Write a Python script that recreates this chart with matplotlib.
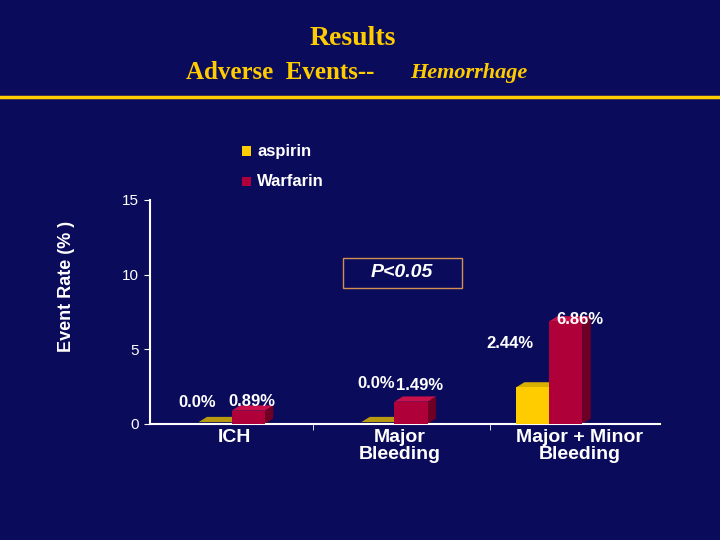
import matplotlib
matplotlib.use("Agg")
import matplotlib.pyplot as plt
from matplotlib.patches import Polygon, Rectangle

plt.rcParams['font.family'] = ['Liberation Sans', 'DejaVu Sans']

categories = ["ICH", "Major\nBleeding", "Major + Minor\nBleeding"]
aspirin = [0.0, 0.0, 2.44]
warfarin = [0.89, 1.49, 6.86]
asp_labels = ["0.0%", "0.0%", "2.44%"]
war_labels = ["0.89%", "1.49%", "6.86%"]
yticks = [0, 5, 10, 15]

BG = "#0b0b5c"
GOLD = "#ffcc00"
GOLD_D = "#b89a10"
RED = "#b0003a"
RED_D = "#6e0025"

fig = plt.figure(figsize=(7.2, 5.4), dpi=100, facecolor=BG)
fig.text(0.49, 0.928, "Results", ha="center", va="center", color=GOLD,
         fontsize=20, fontweight="bold", family="Liberation Serif")
fig.text(0.259, 0.865, "Adverse  Events--", ha="left", va="center", color=GOLD,
         fontsize=18, fontweight="bold", family="Liberation Serif")
fig.text(0.57, 0.865, "Hemorrhage", ha="left", va="center", color=GOLD,
         fontsize=16, fontweight="bold", style="italic", family="Liberation Serif")
fig.add_artist(plt.Line2D([0, 1], [0.82, 0.82], color=GOLD, lw=2.5))

ax = fig.add_axes([0.208, 0.215, 0.708, 0.415], facecolor=BG)
ax.set_xlim(-0.5, 2.5)
ax.set_ylim(0, 15)
w = 0.195
dx, dy = 0.05, 0.35
group_pos = [-0.018, 0.94, 1.85]

def bar3d(x, h, face, top, dark):
    hh = max(h, 0.12)
    ax.add_patch(Polygon([(x + w, 0), (x + w + dx, dy), (x + w + dx, hh + dy), (x + w, hh)],
                         closed=True, fc=dark, ec="none", zorder=2))
    ax.add_patch(Polygon([(x, hh), (x + dx, hh + dy), (x + w + dx, hh + dy), (x + w, hh)],
                         closed=True, fc=dark if h == 0 else top, ec="none", zorder=3))
    if h > 0:
        ax.add_patch(Rectangle((x, 0), w, h, fc=face, ec="none", zorder=3))

for i, g in enumerate(group_pos):
    bar3d(g - w, aspirin[i], GOLD, "#d8b000", GOLD_D)
    bar3d(g, warfarin[i], RED, "#c8104a", RED_D)

lab = dict(color="white", fontsize=12, fontweight="bold", ha="center", va="center", zorder=5)
ax.text(-0.218, 1.4, asp_labels[0], **lab)
ax.text(0.10, 1.5, war_labels[0], **lab)
ax.text(0.83, 2.7, asp_labels[1], **lab)
ax.text(1.09, 2.55, war_labels[1], **lab)
ax.text(1.62, 5.4, asp_labels[2], **lab)
ax.text(2.03, 7.0, war_labels[2], **lab)

for s in ["top", "right"]:
    ax.spines[s].set_visible(False)
for s in ["left", "bottom"]:
    ax.spines[s].set_color("white")
    ax.spines[s].set_linewidth(1.5)
ax.set_yticks(yticks)
ax.set_yticklabels([str(t) for t in yticks], color="white", fontsize=11)
ax.set_xticks([0.0, 0.97, 2.03])
ax.set_xticklabels(categories, color="white", fontsize=14, fontweight="bold", linespacing=1.0)
ax.set_xticks([0.46, 1.5], minor=True)
ax.tick_params(axis="x", which="major", length=0, pad=4)
ax.tick_params(axis="x", which="minor", length=4, color="white")
ax.tick_params(axis="y", colors="white", length=4)
fig.text(0.092, 0.47, "Event Rate (% )", rotation=90, ha="center", va="center",
         color="white", fontsize=13, fontweight="bold")

# P value box
fig.patches.append(Rectangle((0.476, 0.467), 0.165, 0.056, transform=fig.transFigure,
                             fill=False, ec="#d09050", lw=1))
fig.text(0.558, 0.495, "P<0.05", ha="center", va="center", color="white", fontsize=14,
         fontweight="bold", style="italic")

# legend
for yy, c, t in [(0.72, GOLD, "aspirin"), (0.664, RED, "Warfarin")]:
    fig.patches.append(Rectangle((0.336, yy - 0.009), 0.013, 0.018, transform=fig.transFigure,
                                 fc=c, ec="none"))
    fig.text(0.357, yy, t, ha="left", va="center", color="white", fontsize=12, fontweight="bold")

fig.savefig("out.png", facecolor=BG)
